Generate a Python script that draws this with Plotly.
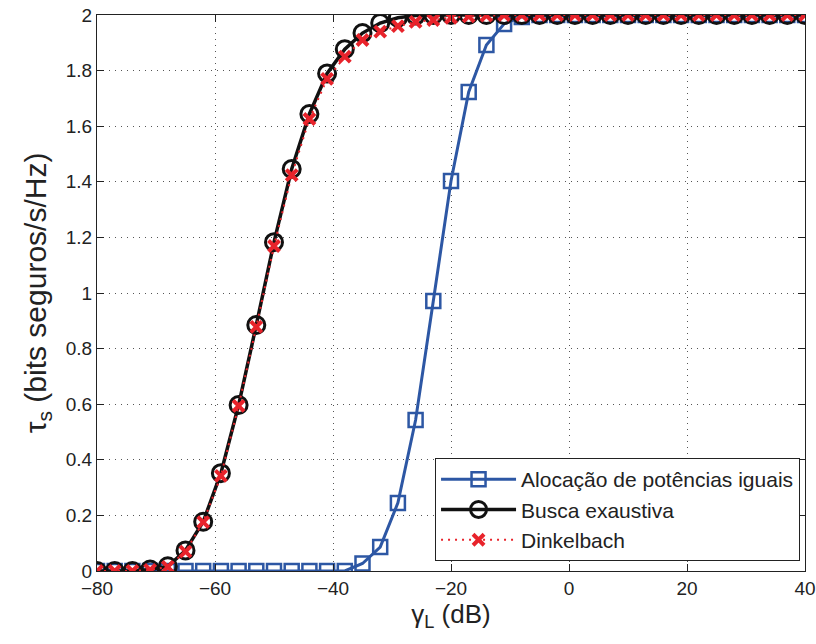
import plotly.graph_objects as go

gamma_db = list(range(-80, 41, 3))

alocacao = [0, 0, 0, 0, 0, 0, 0, 0, 0, 0, 0, 0, 0, 0, 0,
            0.027, 0.086, 0.245, 0.543, 0.971, 1.403, 1.723, 1.892, 1.968, 1.993, 2.0,
            2, 2, 2, 2, 2, 2, 2, 2, 2, 2, 2, 2, 2, 2, 2]
busca = [0, 0, 0, 0.005, 0.017, 0.074, 0.177, 0.352, 0.597, 0.885, 1.183, 1.446, 1.644, 1.79,
         1.877, 1.935, 1.971, 1.99, 1.998, 2, 2,
         2, 2, 2, 2, 2, 2, 2, 2, 2, 2, 2, 2, 2, 2, 2, 2, 2, 2, 2, 2]
dinkelbach = [0, 0, 0, 0.004, 0.015, 0.07, 0.176, 0.342, 0.594, 0.878, 1.169, 1.424, 1.626, 1.77,
              1.85, 1.91, 1.94, 1.96, 1.975, 1.982, 1.99,
              1.995, 1.998, 2, 2, 2, 2, 2, 2, 2, 2, 2, 2, 2, 2, 2, 2, 2, 2, 2, 2]

names = ["Alocação de potências iguais", "Busca exaustiva", "Dinkelbach"]

FONT = "Liberation Sans, Arial, Helvetica, sans-serif"

fig = go.Figure()
fig.add_trace(go.Scatter(
    x=gamma_db, y=alocacao, name=names[0], mode="lines+markers",
    line=dict(color="#2d57a4", width=3),
    marker=dict(symbol="square-open", size=14, color="#2d57a4", line=dict(width=2.5, color="#2d57a4")),
))
fig.add_trace(go.Scatter(
    x=gamma_db, y=busca, name=names[1], mode="lines+markers",
    line=dict(color="#111111", width=3.5),
    marker=dict(symbol="circle-open", size=17, color="#111111", line=dict(width=3, color="#111111")),
))
fig.add_trace(go.Scatter(
    x=gamma_db, y=dinkelbach, name=names[2], mode="lines+markers",
    line=dict(color="#e8232b", width=2, dash="2px,5px"),
    marker=dict(symbol="x-thin", size=11, color="#e8232b", line=dict(width=4, color="#e8232b")),
))

axis_common = dict(
    showline=True, linecolor="#222222", linewidth=1, mirror="ticks",
    ticks="inside", ticklen=7, tickcolor="#222222",
    showgrid=True, gridcolor="#555555", griddash="1px,5px", gridwidth=1,
    zeroline=False, automargin=False,
    tickfont=dict(family=FONT, size=19, color="#222222"),
)

fig.update_layout(
    width=816, height=644,
    margin=dict(l=97, r=11, t=15, b=73),
    paper_bgcolor="white", plot_bgcolor="white",
    font=dict(family=FONT, color="#222222"),
    xaxis=dict(range=[-80, 40], dtick=20,
               title=dict(text="γ<sub>L</sub> (dB)", font=dict(size=26), standoff=2), **axis_common),
    yaxis=dict(range=[0, 2], dtick=0.2,
               title=dict(text="τ<sub>s</sub> (bits seguros/s/Hz)", font=dict(size=30), standoff=10),
               tickformat="~g", **axis_common),
    legend=dict(
        x=0.993, y=0.018, xanchor="right", yanchor="bottom",
        bgcolor="white", bordercolor="#222222", borderwidth=1,
        font=dict(size=21, color="#222222"),
        itemwidth=75, tracegroupgap=0,
    ),
    showlegend=True,
)

fig.write_html("out.html")
